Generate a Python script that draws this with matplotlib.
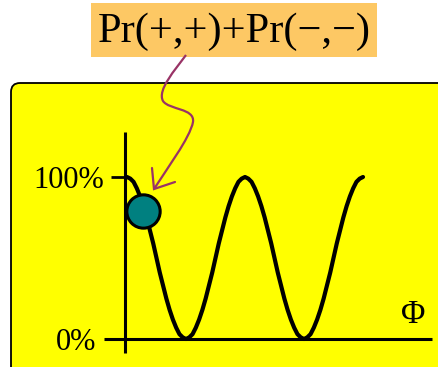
import matplotlib
matplotlib.use("Agg")
import matplotlib.pyplot as plt
from matplotlib.patches import FancyBboxPatch, Rectangle, PathPatch
from matplotlib.path import Path
from matplotlib.transforms import IdentityTransform

# Phase (degrees) and combined coincidence probability Pr(+,+)+Pr(-,-) in %
phase_deg = [0, 5, 10, 15, 20, 25, 30, 35, 40, 45, 50, 55, 60, 65, 70, 75, 80, 85,
             90, 95, 100, 105, 110, 115, 120, 125, 130, 135, 140, 145, 150, 155,
             160, 165, 170, 175, 180, 185, 190, 195, 200, 205, 210, 215, 220, 225,
             230, 235, 240, 245, 250, 255, 260, 265, 270, 275, 280, 285, 290, 295,
             300, 305, 310, 315, 320, 325, 330, 335, 340, 345, 350, 355, 360]
prob_pct = [100, 99, 97, 93, 88, 82, 75, 67, 59, 50, 41, 33, 25, 18, 12, 7, 3, 1,
            0, 1, 3, 7, 12, 18, 25, 33, 41, 50, 59, 67, 75, 82,
            88, 93, 97, 99, 100, 99, 97, 93, 88, 82, 75, 67, 59, 50,
            41, 33, 25, 18, 12, 7, 3, 1, 0, 1, 3, 7, 12, 18,
            25, 33, 41, 50, 59, 67, 75, 82, 88, 93, 97, 99, 100]

# Highlighted point on the curve
point_phase = [24]
point_prob = [79]

tick_values = [0, 100]
tick_labels = ["0%", "100%"]
title_text = "Pr(+,+)+Pr(\u2212,\u2212)"
axis_label = "\u03a6"

W, H = 438, 367
fig = plt.figure(figsize=(W / 100, H / 100), dpi=100)
fig.patch.set_facecolor("white")
px = IdentityTransform()

serif = ["Liberation Serif", "DejaVu Serif"]

# Yellow rounded panel
panel = FancyBboxPatch((11, -40), 480, H - 83 + 40,
                       boxstyle="round,pad=0,rounding_size=9",
                       facecolor="#FFFF00", edgecolor="black", linewidth=1.3,
                       transform=px, zorder=0)
fig.patches.append(panel)

# Orange title label
fig.patches.append(Rectangle((91, H - 57), 286, 54, facecolor="#FDC864",
                             edgecolor="none", transform=px, zorder=1))
fig.text(234 / W, 1 - 42 / H, title_text, ha="center", va="baseline",
         fontsize=30.5, family=serif, color="black", zorder=2)

# Plot axes placed in pixel space
x0, x1, y0, y1 = 100, 435, 125, 355
ax = fig.add_axes([x0 / W, 1 - y1 / H, (x1 - x0) / W, (y1 - y0) / H])
ax.set_zorder(3)
ax.set_facecolor("none")
sx = 236 / 360.0  # px per degree
sy = 162 / 100.0  # px per percent
ax.set_xlim((x0 - 127) / sx, (x1 - 127) / sx)
ax.set_ylim((339 - y1) / sy, (339 - y0) / sy)
ax.axis("off")

# Axis lines
ax.plot([(104 - 127) / sx, (432 - 127) / sx], [0, 0], color="black", lw=2.2,
        solid_capstyle="butt")
ax.plot([(125 - 127) / sx] * 2, [(339 - 353) / sy, (339 - 132) / sy],
        color="black", lw=2.2, solid_capstyle="butt")
ax.plot([(111 - 127) / sx, (125 - 127) / sx], [100, 100], color="black",
        lw=2.0, solid_capstyle="butt")

for v, lab in zip(tick_values, tick_labels):
    xr = 104 if v == 100 else 96
    ax.text((xr - 127) / sx, v, lab, ha="right", va="center_baseline",
            fontsize=22, family=serif)

ax.text((413 - 127) / sx, (339 - 315) / sy, axis_label, ha="center",
        va="center", fontsize=24, family=serif)

# Curve
ax.plot(phase_deg, prob_pct, color="black", lw=3.0, solid_joinstyle="round",
        solid_capstyle="round", zorder=3)
ax.plot(point_phase, point_prob, "o", markersize=24, markerfacecolor="#008080",
        markeredgecolor="black", markeredgewidth=2.2, zorder=4)

# Curly pointer from the title to the highlighted point
def P(x, y):
    return (x, H - y)

verts = [P(186, 55),
         P(175, 70), P(157, 90), P(163, 101),
         P(169, 110), P(195, 108), P(193, 122),
         P(190, 138), P(166, 170), P(154, 189)]
codes = [Path.MOVETO] + [Path.CURVE4] * 9
fig.patches.append(PathPatch(Path(verts, codes), facecolor="none",
                             edgecolor="#993366", lw=1.6, transform=px,
                             zorder=5))
head = [P(152, 168), P(154, 189), P(175, 182)]
fig.patches.append(PathPatch(Path(head, [Path.MOVETO, Path.LINETO, Path.LINETO]),
                             facecolor="none", edgecolor="#993366", lw=1.6,
                             capstyle="round", joinstyle="miter",
                             transform=px, zorder=5))

fig.savefig("out.png", dpi=100)
